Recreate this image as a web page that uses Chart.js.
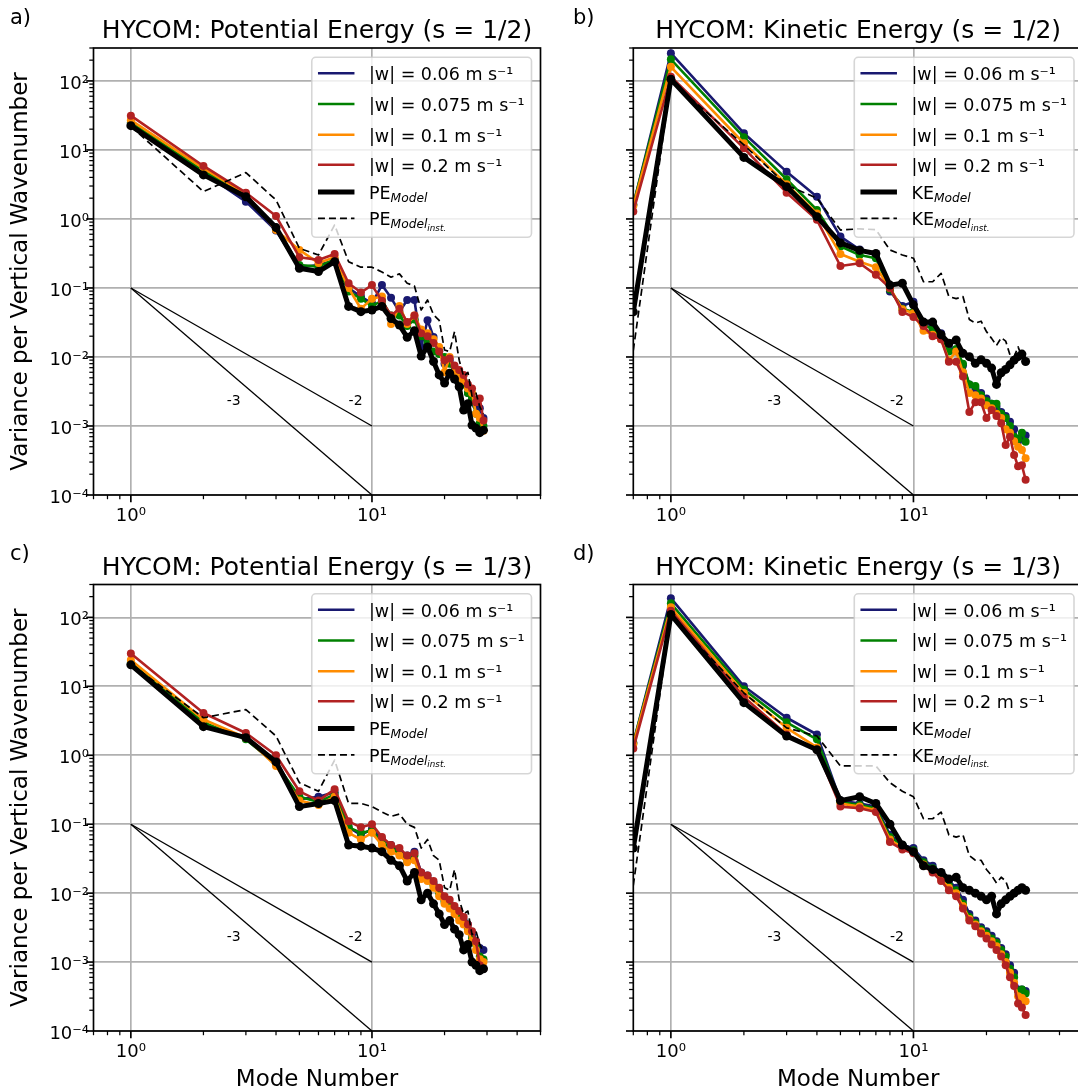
<!DOCTYPE html>
<html><head><meta charset="utf-8">
<script src="https://cdn.jsdelivr.net/npm/chart.js@4.4.1/dist/chart.umd.min.js"></script>
<style>
html,body{margin:0;padding:0;background:#fff;overflow:hidden;width:1078px;height:1091px;}
canvas{position:absolute;}
</style></head><body>
<canvas id="pa" width="545" height="540" style="left:0;top:0"></canvas>
<canvas id="pb" width="545" height="540" style="left:545px;top:0"></canvas>
<canvas id="pc" width="545" height="551" style="left:0;top:540px"></canvas>
<canvas id="pd" width="545" height="551" style="left:545px;top:540px"></canvas>
<script>
// Mode numbers (KE spectra include the barotropic mode, drawn at 0.7)
const modesPE = [1,2,3,4,5,6,7,8,9,10,11,12,13,14,15,16,17,18,19,20,21,22,23,24,25,26,27,28,29];
const modesKE = [0.7,1,2,3,4,5,6,7,8,9,10,11,12,13,14,15,16,17,18,19,20,21,22,23,24,25,26,27,28,29];

// (a) potential energy, s = 1/2
const peHalfW006  = [24,4.7,1.78,0.68,0.2,0.215,0.25,0.1,0.075,0.06,0.11,0.072,0.045,0.067,0.067,0.014,0.034,0.0195,0.012,0.008,0.009,0.006,0.0055,0.0045,0.003,0.0025,0.002,0.0018,0.0013];
const peHalfW0075 = [25,5.0,2.15,0.72,0.215,0.204,0.26,0.089,0.07,0.055,0.065,0.04,0.04,0.028,0.035,0.02,0.016,0.012,0.011,0.01,0.008,0.006,0.005,0.004,0.003,0.0025,0.0015,0.0011,0.001];
const peHalfW01   = [27,5.4,2.3,0.69,0.356,0.23,0.28,0.1,0.05,0.07,0.075,0.03,0.055,0.03,0.04,0.025,0.022,0.018,0.014,0.006,0.01,0.006,0.005,0.0045,0.0035,0.003,0.0015,0.0013,0.00085];
const peHalfW02   = [31.4,5.86,2.4,1.1,0.279,0.255,0.311,0.117,0.086,0.11,0.065,0.04,0.05,0.032,0.04,0.022,0.02,0.016,0.012,0.009,0.0095,0.0075,0.0065,0.0055,0.004,0.0035,0.0022,0.0025,0.0012];
const peHalfModel = [22.5,4.35,2.1,0.75,0.193,0.173,0.24,0.054,0.0454,0.048,0.054,0.036,0.029,0.0193,0.024,0.0103,0.014,0.0086,0.0055,0.0042,0.0058,0.0048,0.0037,0.0017,0.0021,0.00103,0.00093,0.0008,0.00087];
const peHalfInst  = [22,2.49,4.7,1.88,0.376,0.30,0.82,0.24,0.2,0.2,0.17,0.143,0.16,0.117,0.107,0.048,0.067,0.041,0.034,0.0126,0.012,0.0233,0.009,0.0052,0.006,0.0027,0.003,0.0019,0.0015];

// (b) kinetic energy, s = 1/2
const keHalfW006  = [1.6,252,17.5,4.85,2.1,0.555,0.36,0.30,0.089,0.055,0.063,0.032,0.028,0.022,0.014,0.012,0.0075,0.004,0.0035,0.003,0.0025,0.0021,0.0019,0.0016,0.0014,0.00115,0.0009,0.0006,0.0007,0.00073];
const keHalfW0075 = [1.6,206,15.3,3.76,1.35,0.40,0.30,0.27,0.095,0.05,0.045,0.030,0.025,0.02,0.012,0.013,0.008,0.004,0.0038,0.0028,0.0023,0.0021,0.0021,0.0015,0.0013,0.001,0.0007,0.00065,0.0008,0.00059];
const keHalfW01   = [1.55,160,12.5,3.18,1.2,0.31,0.24,0.20,0.1,0.049,0.043,0.024,0.021,0.018,0.009,0.012,0.006,0.003,0.0028,0.0025,0.002,0.0018,0.0015,0.0013,0.0009,0.0008,0.0006,0.0005,0.00045,0.00034];
const keHalfW02   = [1.28,115,10.6,2.4,0.97,0.208,0.228,0.155,0.1,0.045,0.038,0.028,0.02,0.018,0.0085,0.0085,0.0052,0.0016,0.0022,0.0022,0.0013,0.0017,0.0014,0.0011,0.00053,0.0007,0.00038,0.00026,0.00027,0.000166];
const keHalfModel = [0.045,106,7.8,2.94,1.08,0.45,0.35,0.316,0.11,0.117,0.057,0.032,0.032,0.021,0.0158,0.0176,0.0113,0.0101,0.0081,0.0091,0.0081,0.0069,0.004,0.0059,0.0066,0.0077,0.009,0.0101,0.011,0.0086];
const keHalfInst  = [0.0125,100,11.8,3.1,2.0,0.69,0.72,0.70,0.355,0.30,0.27,0.123,0.123,0.163,0.075,0.07,0.075,0.035,0.031,0.033,0.0233,0.0186,0.0147,0.019,0.017,0.0107,0.0101,0.014,0.01,0.011];

// (c) potential energy, s = 1/3
const peThirdW006  = [21,2.9,1.75,0.8,0.23,0.25,0.29,0.09,0.07,0.085,0.06,0.05,0.04,0.035,0.04,0.02,0.018,0.014,0.011,0.008,0.007,0.006,0.005,0.004,0.0035,0.0025,0.002,0.0016,0.0015];
const peThirdW0075 = [22,3.0,1.7,0.75,0.25,0.21,0.27,0.09,0.075,0.08,0.055,0.045,0.038,0.03,0.035,0.018,0.016,0.013,0.01,0.0075,0.0065,0.0055,0.0045,0.0038,0.003,0.0022,0.0018,0.0012,0.0011];
const peThirdW01   = [24,3.3,1.8,0.7,0.22,0.19,0.25,0.075,0.06,0.075,0.05,0.04,0.035,0.028,0.03,0.016,0.015,0.012,0.009,0.007,0.006,0.005,0.004,0.0035,0.0028,0.002,0.0015,0.0011,0.001];
const peThirdW02   = [30,4.1,2.1,1.0,0.3,0.22,0.32,0.11,0.09,0.1,0.065,0.05,0.045,0.035,0.038,0.02,0.018,0.015,0.012,0.009,0.008,0.0065,0.0055,0.0045,0.0035,0.0028,0.002,0.0009,0.0008];
const peThirdModel = [20.5,2.6,1.8,0.8,0.18,0.2,0.22,0.05,0.048,0.045,0.04,0.03,0.025,0.015,0.02,0.008,0.01,0.007,0.005,0.0035,0.004,0.003,0.0025,0.0015,0.0018,0.001,0.0009,0.00075,0.0008];
const peThirdInst  = [21,3.5,4.6,1.9,0.4,0.3,0.85,0.2,0.2,0.18,0.15,0.13,0.14,0.1,0.09,0.045,0.06,0.035,0.03,0.012,0.011,0.022,0.008,0.005,0.0055,0.0025,0.0028,0.0018,0.0014];

// (d) kinetic energy, s = 1/3
const keThirdW006  = [1.5,190,10,3.5,2.0,0.22,0.2,0.18,0.07,0.05,0.045,0.03,0.025,0.02,0.015,0.012,0.008,0.005,0.004,0.0032,0.0028,0.0024,0.002,0.0016,0.0013,0.0009,0.0007,0.0004,0.0004,0.00038];
const keThirdW0075 = [1.5,160,9,3.0,1.7,0.21,0.19,0.17,0.065,0.05,0.042,0.028,0.023,0.018,0.013,0.011,0.007,0.0045,0.0037,0.003,0.0026,0.0022,0.0019,0.0015,0.0012,0.0008,0.0006,0.00038,0.0004,0.00035];
const keThirdW01   = [1.45,140,8,2.5,1.3,0.2,0.18,0.16,0.06,0.045,0.04,0.026,0.021,0.016,0.012,0.01,0.0065,0.0042,0.0035,0.0028,0.0024,0.002,0.0017,0.0013,0.001,0.0007,0.0005,0.00032,0.0003,0.00027];
const keThirdW02   = [1.25,125,7,2.0,1.2,0.18,0.17,0.15,0.055,0.043,0.038,0.025,0.02,0.015,0.011,0.009,0.006,0.004,0.0033,0.0026,0.0022,0.0018,0.0015,0.0012,0.0009,0.0006,0.00045,0.00025,0.00022,0.00017];
const keThirdModel = [0.045,110,5.8,1.9,1.2,0.22,0.25,0.2,0.1,0.05,0.04,0.025,0.022,0.02,0.016,0.017,0.012,0.011,0.01,0.009,0.008,0.009,0.005,0.007,0.008,0.009,0.01,0.011,0.012,0.011];
const keThirdInst  = [0.013,105,8,2.5,1.9,0.7,0.7,0.7,0.4,0.3,0.25,0.12,0.12,0.15,0.07,0.065,0.07,0.035,0.03,0.03,0.022,0.018,0.014,0.017,0.015,0.01,0.01,0.012,0.011,0.0095];

// Reference spectral slopes k^-3 and k^-2 anchored at (1, 0.1)
const slopeX = [1, 10];
const slopeM3 = [0.1, 0.0001];
const slopeM2 = [0.1, 0.001];
const slopeLabels = [{text:'-3', x:2.5, y:0.002}, {text:'-2', x:8, y:0.002}];

const wLabels = ['|w| = 0.06 m s⁻¹', '|w| = 0.075 m s⁻¹', '|w| = 0.1 m s⁻¹', '|w| = 0.2 m s⁻¹'];
const wColors = ['#191970', '#008000', '#ff8c00', '#b22222'];

const FONT = "'DejaVu Sans', sans-serif";
const SUP = {'0':'⁰','1':'¹','2':'²','3':'³','4':'⁴','5':'⁵','-':'⁻'};
const sup = n => String(n).split('').map(c => SUP[c]).join('');

function logTicks(min, max) {
  const t = [];
  for (let k = Math.floor(Math.log10(min)); k <= Math.ceil(Math.log10(max)); k++) {
    for (let m = 1; m <= 9; m++) {
      const v = m * Math.pow(10, k);
      if (v >= min * 0.999 && v <= max * 1.001) t.push({value: v, major: m === 1});
    }
  }
  return t;
}
const pts = (xs, ys) => xs.map((x, i) => ({x, y: ys[i]}));

function segFont(s, fs) {
  const size = fs * (s.scale || 1);
  return `${s.italic ? 'italic ' : ''}${size}px ${FONT}`;
}

// Frame, ticks, titles, legend and slope annotations
const framePlugin = {
  id: 'frame',
  afterDatasetsDraw(chart) {
    const {ctx, scales: {x, y}} = chart;
    ctx.save();
    ctx.fillStyle = '#000';
    ctx.font = `14px ${FONT}`;
    ctx.textAlign = 'left';
    ctx.textBaseline = 'alphabetic';
    for (const s of slopeLabels) ctx.fillText(s.text, x.getPixelForValue(s.x), y.getPixelForValue(s.y));
    ctx.restore();
  },
  afterDraw(chart) {
    const o = chart.options.plugins.frame;
    const {ctx, chartArea: a, scales: {x, y}} = chart;
    ctx.save();
    ctx.strokeStyle = '#000';
    // tick marks
    for (const t of x.ticks) {
      const px = x.getPixelForValue(t.value);
      if (px < a.left - 0.5 || px > a.right + 0.5) continue;
      ctx.lineWidth = t.major ? 1.67 : 1.25;
      const L = t.major ? 7.3 : 4.2;
      ctx.beginPath(); ctx.moveTo(px, a.bottom); ctx.lineTo(px, a.bottom + L); ctx.stroke();
    }
    for (const t of y.ticks) {
      const py = y.getPixelForValue(t.value);
      if (py < a.top - 0.5 || py > a.bottom + 0.5) continue;
      ctx.lineWidth = t.major ? 1.67 : 1.25;
      const L = t.major ? 7.3 : 4.2;
      ctx.beginPath(); ctx.moveTo(a.left - L, py); ctx.lineTo(a.left, py); ctx.stroke();
    }
    // spines
    ctx.lineWidth = 1.67;
    ctx.strokeRect(a.left, a.top, a.right - a.left, a.bottom - a.top);

    // legend
    const fs = 17.5;
    const rows = o.legend;
    const measure = segs => segs.reduce((w, s) => { ctx.font = segFont(s, fs); return w + ctx.measureText(s.t).width; }, 0);
    const maxW = Math.max(...rows.map(r => measure(r.segs)));
    const bw = 57.2 + maxW + 7;
    const bx = a.right - 9 - bw, by = a.top + 9.3, bh = 180;
    ctx.beginPath();
    if (ctx.roundRect) ctx.roundRect(bx, by, bw, bh, 4); else ctx.rect(bx, by, bw, bh);
    ctx.fillStyle = 'rgba(255,255,255,0.8)';
    ctx.fill();
    ctx.strokeStyle = 'rgba(204,204,204,0.8)';
    ctx.lineWidth = 1.6;
    ctx.stroke();
    const rowY = [16, 46.7, 77.4, 107.4, 134.7, 161];
    rows.forEach((r, i) => {
      const hy = by + rowY[i];
      ctx.save();
      ctx.strokeStyle = r.color;
      ctx.lineWidth = r.width;
      ctx.setLineDash(r.dash || []);
      ctx.beginPath(); ctx.moveTo(bx + 6.2, hy); ctx.lineTo(bx + 42.7, hy); ctx.stroke();
      ctx.restore();
      let tx = bx + 57.2;
      const base = hy + 6.8;
      ctx.fillStyle = '#000';
      ctx.textAlign = 'left';
      ctx.textBaseline = 'alphabetic';
      for (const s of r.segs) {
        ctx.font = segFont(s, fs);
        ctx.fillText(s.t, tx, base + (s.dy || 0));
        tx += ctx.measureText(s.t).width;
      }
    });

    // title and panel letter
    ctx.fillStyle = '#000';
    ctx.textAlign = 'center';
    ctx.textBaseline = 'alphabetic';
    ctx.font = `25px ${FONT}`;
    ctx.fillText(o.title, (a.left + a.right) / 2, a.top - 10);
    ctx.textAlign = 'left';
    ctx.font = `21px ${FONT}`;
    ctx.fillText(o.letter, o.letterX, a.top - 24.5);

    // axis labels
    ctx.font = `23px ${FONT}`;
    if (o.ylabel) {
      ctx.save();
      ctx.translate(27.2, (a.top + a.bottom) / 2);
      ctx.rotate(-Math.PI / 2);
      ctx.textAlign = 'center';
      ctx.fillText(o.ylabel, 0, 0);
      ctx.restore();
    }
    if (o.xlabel) {
      ctx.textAlign = 'center';
      ctx.fillText(o.xlabel, (a.left + a.right) / 2, a.bottom + 55);
    }
    ctx.restore();
  }
};

function makePanel(id, p) {
  const xs = p.modes;
  const series = [p.w006, p.w0075, p.w01, p.w02];
  const datasets = [
    {data: pts(slopeX, slopeM3), borderColor: '#000', borderWidth: 1.3, pointRadius: 0, order: 10},
    {data: pts(slopeX, slopeM2), borderColor: '#000', borderWidth: 1.3, pointRadius: 0, order: 10}
  ];
  series.forEach((ys, i) => datasets.push({
    data: pts(xs, ys), borderColor: wColors[i], backgroundColor: wColors[i],
    borderWidth: 2.6, pointRadius: 4, pointBorderWidth: 0, order: 8 - i
  }));
  datasets.push({data: pts(xs, p.model), borderColor: '#000', backgroundColor: '#000',
    borderWidth: 5, pointRadius: 4.5, pointBorderWidth: 0, order: 2});
  datasets.push({data: pts(xs, p.inst), borderColor: '#000', borderWidth: 1.7,
    borderDash: [7, 4], pointRadius: 0, order: 1});
  datasets.forEach(d => { d.clip = 0; d.tension = 0; d.borderJoinStyle = 'round'; d.pointHoverRadius = 0; });

  const legend = wLabels.map((t, i) => ({color: wColors[i], width: 2.6, segs: [{t}]}));
  legend.push({color: '#000', width: 5, segs: [{t: p.kind}, {t: 'Model', italic: true, scale: 0.7, dy: 3}]});
  legend.push({color: '#000', width: 1.7, dash: [7, 4], segs: [{t: p.kind}, {t: 'Model', italic: true, scale: 0.7, dy: 3}, {t: 'inst.', italic: true, scale: 0.5, dy: 5.5}]});

  new Chart(document.getElementById(id), {
    type: 'line',
    data: {datasets},
    options: {
      responsive: false, animation: false, devicePixelRatio: 1,
      events: [],
      layout: {padding: p.pad},
      plugins: {
        legend: {display: false}, tooltip: {enabled: false}, title: {display: false},
        frame: {title: p.title, letter: p.letter, letterX: p.letterX, ylabel: p.ylabel, xlabel: p.xlabel, legend}
      },
      scales: {
        x: {
          type: 'logarithmic', position: 'bottom', min: 0.7, max: 50,
          afterBuildTicks: s => { s.ticks = logTicks(0.7, 50); },
          afterFit: s => { s.height = p.xh; s.paddingLeft = 0; s.paddingRight = 0; },
          border: {display: false},
          grid: {color: c => (c.tick && c.tick.major) ? '#b0b0b0' : 'rgba(0,0,0,0)', lineWidth: 1.67, drawTicks: false},
          ticks: {autoSkip: false, maxRotation: 0, minRotation: 0, padding: 11, color: '#000',
            font: {family: FONT, size: 18},
            callback: (v, i, t) => t[i].major ? '10' + sup(Math.round(Math.log10(v))) : ''}
        },
        y: {
          type: 'logarithmic', position: 'left', min: 0.0001, max: 300,
          afterBuildTicks: s => { s.ticks = logTicks(0.0001, 300); },
          afterFit: s => { s.width = p.yw; s.paddingTop = 0; s.paddingBottom = 0; },
          border: {display: false},
          grid: {color: c => (c.tick && c.tick.major) ? '#b0b0b0' : 'rgba(0,0,0,0)', lineWidth: 1.67, drawTicks: false},
          ticks: {autoSkip: false, padding: 4.5, color: '#000', labelOffset: 3,
            font: {family: FONT, size: 18},
            callback: (v, i, t) => (p.ylabel && t[i].major) ? '10' + sup(Math.round(Math.log10(v))) : ''}
        }
      }
    },
    plugins: [framePlugin]
  });
}

const yLabel = 'Variance per Vertical Wavenumber';
makePanel('pa', {modes: modesPE, w006: peHalfW006, w0075: peHalfW0075, w01: peHalfW01, w02: peHalfW02,
  model: peHalfModel, inst: peHalfInst, kind: 'PE', title: 'HYCOM: Potential Energy (s = 1/2)',
  letter: 'a)', letterX: 10, ylabel: yLabel, xlabel: null,
  pad: {left: 0, right: 2.5, top: 48, bottom: 0}, yw: 93.5, xh: 45});
makePanel('pb', {modes: modesKE, w006: keHalfW006, w0075: keHalfW0075, w01: keHalfW01, w02: keHalfW02,
  model: keHalfModel, inst: keHalfInst, kind: 'KE', title: 'HYCOM: Kinetic Energy (s = 1/2)',
  letter: 'b)', letterX: 28, ylabel: null, xlabel: null,
  pad: {left: 0, right: 7, top: 48, bottom: 0}, yw: 88.3, xh: 45});
makePanel('pc', {modes: modesPE, w006: peThirdW006, w0075: peThirdW0075, w01: peThirdW01, w02: peThirdW02,
  model: peThirdModel, inst: peThirdInst, kind: 'PE', title: 'HYCOM: Potential Energy (s = 1/3)',
  letter: 'c)', letterX: 10, ylabel: yLabel, xlabel: 'Mode Number',
  pad: {left: 0, right: 2.5, top: 44.5, bottom: 0}, yw: 93.5, xh: 60});
makePanel('pd', {modes: modesKE, w006: keThirdW006, w0075: keThirdW0075, w01: keThirdW01, w02: keThirdW02,
  model: keThirdModel, inst: keThirdInst, kind: 'KE', title: 'HYCOM: Kinetic Energy (s = 1/3)',
  letter: 'd)', letterX: 28, ylabel: null, xlabel: 'Mode Number',
  pad: {left: 0, right: 7, top: 44.5, bottom: 0}, yw: 88.3, xh: 60});
</script>
</body></html>
